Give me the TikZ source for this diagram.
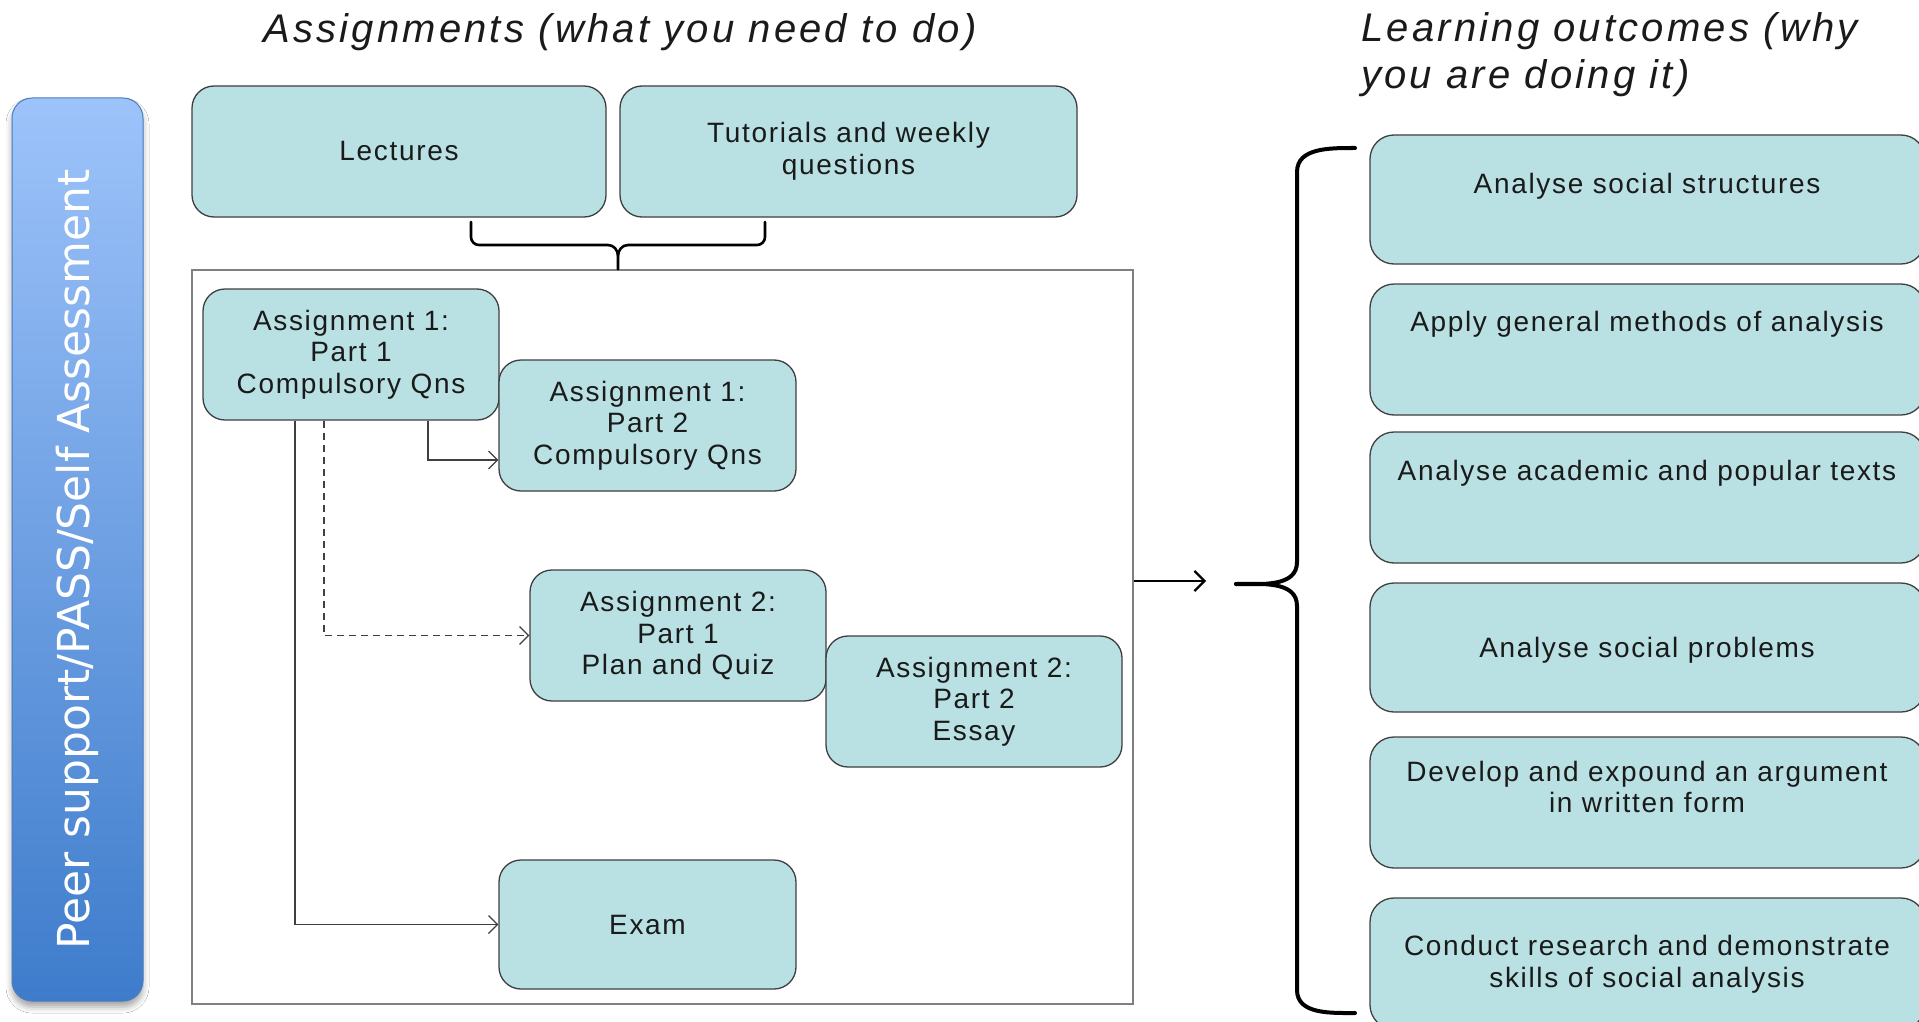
\documentclass[tikz,border=0pt]{standalone}
\usepackage{fontspec}
\setmainfont{Liberation Sans}
\newfontfamily\bodyfont[LetterSpace=6]{Liberation Sans}
\newfontfamily\titlefont[LetterSpace=8]{Liberation Sans}
\newfontfamily\sidefont{DejaVu Sans}
\usetikzlibrary{arrows.meta,shadows.blur}

\definecolor{boxfill}{HTML}{B9E0E3}
\definecolor{boxline}{HTML}{3F3F3F}
\definecolor{connline}{HTML}{404040}
\definecolor{frameline}{HTML}{808080}
\definecolor{sidetop}{HTML}{9DC3FA}
\definecolor{sidebottom}{HTML}{3E7CCB}
\definecolor{sideline}{HTML}{4A7DBF}
\definecolor{inktext}{HTML}{1A1A1A}

\tikzset{
  taskbox/.style={draw=boxline, fill=boxfill, line width=1.3pt, rounded corners=22pt,
    align=center, text=inktext, font=\bodyfont\fontsize{28}{31.5}\selectfont, inner sep=0pt},
  goalbox/.style={draw=boxline, fill=boxfill, line width=1.3pt, rounded corners=24pt,
    minimum width=555pt, inner sep=0pt},
  goaltext/.style={align=center, text=inktext, font=\bodyfont\fontsize{28}{31.5}\selectfont, inner sep=0pt},
  titletext/.style={text=inktext, font=\titlefont\itshape\fontsize{40}{46}\selectfont, inner sep=0pt},
  conn/.style={draw=connline, line width=1.2pt, -{Straight Barb[length=9pt,width=18pt]}},
  brace/.style={draw=black, line width=2.6pt, line cap=round},
  bigbrace/.style={draw=black, line width=4pt, line cap=round},
  bigarrow/.style={draw=black, line width=2.2pt, -{Straight Barb[length=10pt,width=20pt]}},
}

\begin{document}
\begin{tikzpicture}[x=1pt,y=-1pt]
\clip (0,0) rectangle (1919,1022);
\fill[white] (0,0) rectangle (1919,1022);

% side bar with the supporting activities
\node[draw=sideline, line width=1pt, rounded corners=20pt, top color=sidetop, bottom color=sidebottom,
      minimum width=131pt, minimum height=903pt, inner sep=0pt,
      blur shadow={shadow xshift=0pt, shadow yshift=-6pt, shadow blur radius=6pt, shadow opacity=35}]
      (side) at (77.5,549.5) {};
\node[rotate=90, text=white, font=\sidefont\fontsize{44}{44}\selectfont, inner sep=0pt]
      (sidetext) at ([yshift=-10pt]side.center) {Peer support/PASS/Self Assessment};

% headings
\node[titletext, anchor=base] (head1) at (620,43) {Assignments (what you need to do)};
\node[titletext, anchor=base west] (head2a) at (1361,42) {Learning outcomes (why};
\node[titletext, anchor=base west] (head2b) at (1361,89) {you are doing it)};

% teaching activities
\node[taskbox, minimum width=414pt, minimum height=131pt] (lect) at (399,151.5) {Lectures};
\node[taskbox, minimum width=457pt, minimum height=131pt] (tut) at (848.5,151.5) {Tutorials and weekly\\questions};

% frame holding the assessment tasks
\node[draw=frameline, line width=1.4pt, minimum width=941pt, minimum height=734pt, inner sep=0pt]
      (frame) at (662.5,637) {};

% brace joining the teaching activities to the frame
\draw[brace] (471,222) -- (471,237) to[out=-90,in=180] (479,245) -- (608,245)
             to[out=0,in=90] (618,256) -- (frame.north -| 618,0);
\draw[brace] (765,222) -- (765,237) to[out=-90,in=0] (757,245) -- (628,245)
             to[out=180,in=90] (618,256);

% assessment tasks
\node[taskbox, minimum width=296pt, minimum height=131pt] (a11) at (351,354.5) {Assignment 1:\\Part 1\\Compulsory Qns};
\node[taskbox, minimum width=297pt, minimum height=131pt] (a12) at (647.5,425.5) {Assignment 1:\\Part 2\\Compulsory Qns};
\node[taskbox, minimum width=296pt, minimum height=131pt] (a21) at (678,635.5) {Assignment 2:\\Part 1\\Plan and Quiz};
\node[taskbox, minimum width=296pt, minimum height=131pt] (a22) at (974,701.5) {Assignment 2:\\Part 2\\Essay};
\node[taskbox, minimum width=297pt, minimum height=129pt] (exam) at (647.5,924.5) {Exam};

% links between the tasks
\draw[conn] ([xshift=77pt]a11.south) |- ([yshift=-34.5pt]a12.west);
\draw[conn, dash pattern=on 7pt off 5pt] ([xshift=-27pt]a11.south) |- (a21.west);
\draw[conn] ([xshift=-56pt]a11.south) |- (exam.west);

% from the tasks to the outcomes
\coordinate (arrowend) at (1206,581);
\draw[bigarrow] ([yshift=56pt]frame.east) -- (arrowend);

\draw[bigbrace] (1355,148) to[out=180,in=90] (1297,172) -- (1297,562) to[out=-90,in=0] (1236,584);
\draw[bigbrace] (1236,584) to[out=0,in=90] (1297,606) -- (1297,990) to[out=-90,in=180] (1355,1013);

% learning outcomes
\node[goalbox, minimum height=129pt] (o1) at (1647.5,199.5) {};
\node[goalbox, minimum height=131pt] (o2) at (1647.5,349.5) {};
\node[goalbox, minimum height=131pt] (o3) at (1647.5,497.5) {};
\node[goalbox, minimum height=129pt] (o4) at (1647.5,647.5) {};
\node[goalbox, minimum height=131pt] (o5) at (1647.5,802.5) {};
\node[goalbox, minimum height=131pt] (o6) at (1647.5,963.5) {};

\node[goaltext] (t1) at (1647,186) {Analyse social structures};
\node[goaltext] (t2) at (1647,324) {Apply general methods of analysis};
\node[goaltext] (t3) at (1647,473) {Analyse academic and popular texts};
\node[goaltext] (t4) at (1647,650) {Analyse social problems};
\node[goaltext] (t5) at (1647,787) {Develop and expound an argument\\in written form};
\node[goaltext] (t6) at (1647,964) {Conduct research and demonstrate\\skills of social analysis};
\end{tikzpicture}
\end{document}
